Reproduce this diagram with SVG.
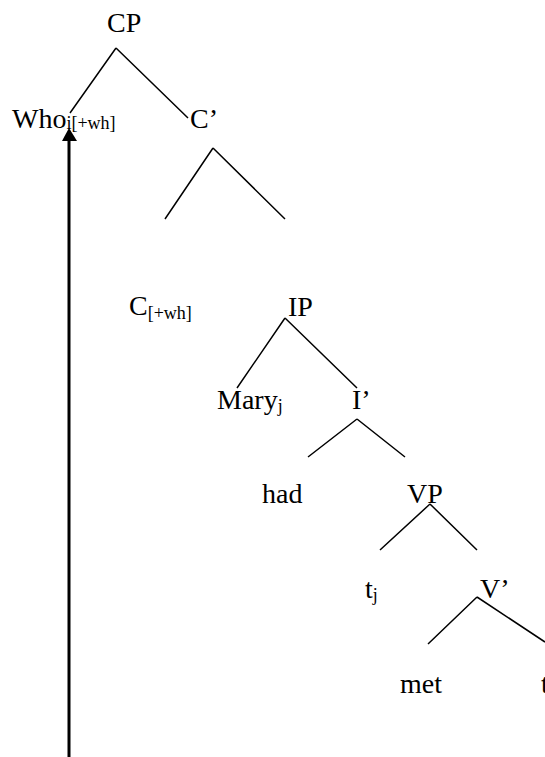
<svg xmlns="http://www.w3.org/2000/svg" width="545" height="757" viewBox="0 0 545 757">
<style>
.t{font-family:"Liberation Serif","Times New Roman",serif;font-size:28px;fill:#000}
.s{font-family:"Liberation Serif","Times New Roman",serif;font-size:18px;fill:#000}
.e{stroke:#000;stroke-width:1.5;fill:none}
</style>
<rect width="545" height="757" fill="#fff"/>
<g id="connectors">
<path class="e" d="M116 48L70 113M116 48L188 118"/>
<path class="e" d="M213 148L165 219M213 148L285 219"/>
<path class="e" d="M285 318L237 388M285 318L357 388"/>
<path class="e" d="M357 419L308 457M357 419L405 457"/>
<path class="e" d="M430 504L380 550M430 504L477 550"/>
<path class="e" d="M477 597L428 644M477 597L545 642"/>
<g id="movement">
<line x1="69" y1="757" x2="69" y2="140" stroke="#000" stroke-width="3"/>
<polygon points="69,128 62,141 77,141" fill="#000"/>
</g>
</g>
<g id="CP"><text class="t" x="107" y="32">CP</text></g>
<g id="Who"><text class="t" x="12" y="128">Who<tspan class="s" dy="1">i</tspan><tspan class="s">[+wh]</tspan></text></g>
<g id="Cbar"><text class="t" x="190" y="128">C’</text></g>
<g id="C"><text class="t" x="129" y="315">C<tspan class="s" dy="4">[+wh]</tspan></text></g>
<g id="IP"><text class="t" x="288" y="316">IP</text></g>
<g id="Mary"><text class="t" x="217" y="409">Mary<tspan class="s" dy="3">j</tspan></text></g>
<g id="Ibar"><text class="t" x="352" y="409">I’</text></g>
<g id="had"><text class="t" x="262" y="503">had</text></g>
<g id="VP"><text class="t" x="407" y="503">VP</text></g>
<g id="tj"><text class="t" x="365" y="598">t<tspan class="s" dy="3">j</tspan></text></g>
<g id="Vbar"><text class="t" x="480" y="598">V’</text></g>
<g id="met"><text class="t" x="400" y="693">met</text></g>
<g id="t"><text class="t" x="541" y="693">t</text></g>
</svg>
